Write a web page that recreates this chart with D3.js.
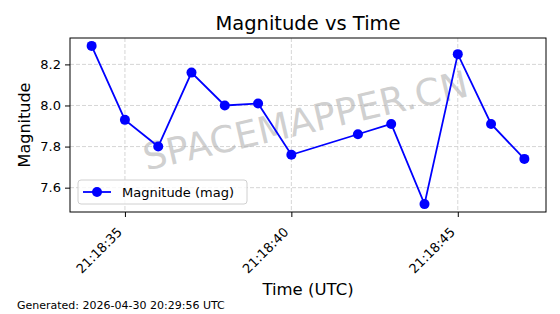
<!DOCTYPE html>
<html>
<head>
<meta charset="utf-8">
<script src="https://cdn.jsdelivr.net/npm/d3@7"></script>
<style>
  body { margin: 0; background: #fff; }
  text { font-family: "DejaVu Sans", sans-serif; }
</style>
</head>
<body>
<div id="chart"></div>
<script>
// data (seconds past 21:18:00 UTC)
var seconds = [34, 35, 36, 37, 38, 39, 40, 42, 43, 44, 45, 46, 47];
var magnitudes = [8.29, 7.93, 7.80, 8.16, 8.00, 8.01, 7.76, 7.86, 7.91, 7.52, 8.25, 7.91, 7.74];
var yTicks = [7.6, 7.8, 8.0, 8.2];
var xTickSeconds = [35, 40, 45];

var svgWidth = 560, svgHeight = 314;
var margin = { top: 38, right: 14, bottom: 102, left: 70 };
var chartWidth = svgWidth - margin.left - margin.right;
var chartHeight = svgHeight - margin.top - margin.bottom;

var data = seconds.map(function(s, i) {
  return { t: new Date(Date.UTC(2026, 3, 30, 21, 18, s)), mag: magnitudes[i] };
});

var svg = d3.select("#chart").append("svg")
  .attr("width", svgWidth)
  .attr("height", svgHeight);

var chartGroup = svg.append("g")
  .attr("transform", `translate(${margin.left}, ${margin.top})`);

// matplotlib-style 5% margins
var tExt = d3.extent(data, d => d.t);
var tPad = (tExt[1] - tExt[0]) * 0.05;
var xScale = d3.scaleUtc()
  .domain([new Date(+tExt[0] - tPad), new Date(+tExt[1] + tPad)])
  .range([0, chartWidth]);

var yExt = d3.extent(data, d => d.mag);
var yPad = (yExt[1] - yExt[0]) * 0.05;
var yScale = d3.scaleLinear()
  .domain([yExt[0] - yPad, yExt[1] + yPad])
  .range([chartHeight, 0]);

var xTicks = xTickSeconds.map(s => new Date(Date.UTC(2026, 3, 30, 21, 18, s)));

// grid
chartGroup.append("g").selectAll("line")
  .data(xTicks).enter().append("line")
  .attr("x1", d => xScale(d)).attr("x2", d => xScale(d))
  .attr("y1", 0).attr("y2", chartHeight)
  .attr("stroke", "#cccccc").attr("stroke-width", 0.8)
  .attr("stroke-dasharray", "4,2");

chartGroup.append("g").selectAll("line")
  .data(yTicks).enter().append("line")
  .attr("x1", 0).attr("x2", chartWidth)
  .attr("y1", d => yScale(d)).attr("y2", d => yScale(d))
  .attr("stroke", "#cccccc").attr("stroke-width", 0.8)
  .attr("stroke-dasharray", "4,2");

// watermark
chartGroup.append("text")
  .attr("transform", `translate(${chartWidth / 2 - 2}, ${chartHeight / 2 - 2}) rotate(-13)`)
  .attr("text-anchor", "middle")
  .attr("dominant-baseline", "middle")
  .attr("font-size", 37)
  .attr("fill", "#b0b0b0")
  .attr("fill-opacity", 0.6)
  .text("SPACEMAPPER.CN");

// axes
var bottomAxis = d3.axisBottom(xScale)
  .tickValues(xTicks)
  .tickFormat(d3.utcFormat("%H:%M:%S"))
  .tickSize(5).tickPadding(4);
var leftAxis = d3.axisLeft(yScale)
  .tickValues(yTicks)
  .tickFormat(d3.format(".1f"))
  .tickSize(5).tickPadding(4);

var xAxis = chartGroup.append("g")
  .attr("transform", `translate(0, ${chartHeight})`)
  .call(bottomAxis);
xAxis.select(".domain").remove();
xAxis.selectAll("text")
  .attr("font-size", 13)
  .attr("fill", "#000")
  .style("text-anchor", "end")
  .attr("x", 0).attr("y", 0).attr("dy", 0)
  .attr("transform", "translate(-2.5, 21) rotate(-45)");

var yAxis = chartGroup.append("g").call(leftAxis);
yAxis.select(".domain").remove();
yAxis.selectAll("text").attr("font-size", 13).attr("fill", "#000");

chartGroup.append("rect")
  .attr("width", chartWidth).attr("height", chartHeight)
  .attr("fill", "none").attr("stroke", "#000").attr("stroke-width", 1);

// line + markers
var line = d3.line().x(d => xScale(d.t)).y(d => yScale(d.mag));
chartGroup.append("path")
  .datum(data)
  .attr("d", line)
  .attr("fill", "none")
  .attr("stroke", "#0000ff")
  .attr("stroke-width", 1.8);

chartGroup.selectAll("circle")
  .data(data).enter().append("circle")
  .attr("cx", d => xScale(d.t))
  .attr("cy", d => yScale(d.mag))
  .attr("r", 5)
  .attr("fill", "#0000ff");

// legend
var legend = chartGroup.append("g").attr("transform", "translate(8, 142)");
legend.append("rect")
  .attr("width", 169).attr("height", 24).attr("rx", 3)
  .attr("fill", "#fff").attr("fill-opacity", 0.8)
  .attr("stroke", "#d0d0d0");
legend.append("line")
  .attr("x1", 5).attr("x2", 33).attr("y1", 12).attr("y2", 12)
  .attr("stroke", "#0000ff").attr("stroke-width", 1.8);
legend.append("circle").attr("cx", 19).attr("cy", 12).attr("r", 5).attr("fill", "#0000ff");
legend.append("text")
  .attr("x", 44).attr("y", 12).attr("dy", "0.35em")
  .attr("font-size", 13)
  .text("Magnitude (mag)");

// titles
svg.append("text")
  .attr("x", margin.left + chartWidth / 2).attr("y", 30)
  .attr("text-anchor", "middle").attr("font-size", 19.5)
  .text("Magnitude vs Time");

svg.append("text")
  .attr("x", margin.left + chartWidth / 2).attr("y", 295)
  .attr("text-anchor", "middle").attr("font-size", 16.5)
  .text("Time (UTC)");

svg.append("text")
  .attr("transform", `translate(30, ${margin.top + chartHeight / 2}) rotate(-90)`)
  .attr("text-anchor", "middle").attr("font-size", 16)
  .text("Magnitude");

svg.append("text")
  .attr("x", 17).attr("y", 309)
  .attr("font-size", 11)
  .text("Generated: 2026-04-30 20:29:56 UTC");
</script>
</body>
</html>
